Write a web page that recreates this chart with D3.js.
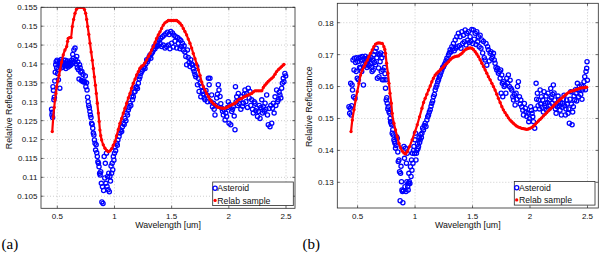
<!DOCTYPE html>
<html>
<head>
<meta charset="utf-8">
<script src="https://cdn.jsdelivr.net/npm/d3@7"></script>
<style>
    body { margin: 0; background: #fff; }
    svg { display: block; font-family: "Liberation Sans", Arial, Helvetica, sans-serif; }
    .tick-label { font-size: 8px; fill: #111; }
    .axis-label { font-size: 8.8px; fill: #111; }
    .legend-text { font-size: 8.7px; fill: #111; }
    .grid-line { stroke: #b8b8b8; stroke-width: 0.7; stroke-dasharray: 1,2; }
    .frame { fill: none; stroke: #2a2a2a; stroke-width: 0.8; }
    .tag { font-family: "Liberation Serif", "Times New Roman", serif; font-size: 15px; fill: #000; }
</style>
</head>
<body>
<svg id="chart" width="600" height="253"></svg>
<script>
const xTicks = [0.5, 1, 1.5, 2, 2.5];
const yTicksA = [0.105, 0.11, 0.115, 0.12, 0.125, 0.13, 0.135, 0.14, 0.145, 0.15, 0.155];
const yTicksB = [0.13, 0.14, 0.15, 0.16, 0.17, 0.18];
const seriesNames = ["Asteroid", "Relab sample"];

// panel (a): [wavelength um, relative reflectance]
const asteroidA = [
[0.450,0.1280],[0.453,0.1265],[0.456,0.1272],[0.459,0.1258],[0.462,0.1340],[0.466,0.1330],[0.470,0.1305],[0.474,0.1312],
[0.478,0.1355],[0.482,0.1378],[0.486,0.1398],[0.490,0.1406],[0.494,0.1390],[0.498,0.1410],[0.502,0.1375],[0.506,0.1385],
[0.510,0.1358],[0.514,0.1402],[0.518,0.1408],[0.522,0.1336],[0.526,0.1395],[0.530,0.1400],[0.534,0.1412],[0.538,0.1390],
[0.542,0.1398],[0.546,0.1405],[0.550,0.1392],[0.555,0.1410],[0.560,0.1400],[0.565,0.1395],[0.570,0.1410],[0.575,0.1388],
[0.580,0.1402],[0.585,0.1396],[0.590,0.1408],[0.595,0.1392],[0.600,0.1400],[0.605,0.1405],[0.610,0.1395],[0.615,0.1403],
[0.620,0.1398],[0.625,0.1410],[0.630,0.1402],[0.635,0.1425],[0.640,0.1415],[0.645,0.1437],[0.650,0.1405],[0.655,0.1442],
[0.660,0.1412],[0.665,0.1400],[0.670,0.1420],[0.675,0.1390],[0.680,0.1405],[0.685,0.1385],[0.690,0.1360],[0.695,0.1398],
[0.700,0.1390],[0.705,0.1378],[0.710,0.1356],[0.715,0.1380],[0.720,0.1354],[0.725,0.1372],[0.730,0.1352],[0.735,0.1354],
[0.740,0.1352],[0.745,0.1368],[0.750,0.1340],[0.755,0.1350],[0.760,0.1331],[0.765,0.1312],[0.770,0.1300],[0.775,0.1290],
[0.780,0.1284],[0.785,0.1274],[0.790,0.1265],[0.795,0.1258],[0.800,0.1243],[0.805,0.1240],[0.810,0.1230],[0.815,0.1217],
[0.820,0.1212],[0.825,0.1199],[0.830,0.1190],[0.835,0.1172],[0.840,0.1186],[0.845,0.1165],[0.850,0.1155],[0.855,0.1141],
[0.860,0.1137],[0.865,0.1128],[0.870,0.1111],[0.875,0.1106],[0.880,0.1115],[0.885,0.1084],[0.890,0.1035],[0.895,0.1075],
[0.900,0.1031],[0.905,0.1065],[0.910,0.1155],[0.915,0.1098],[0.920,0.1137],[0.925,0.1084],[0.930,0.1164],[0.935,0.1076],
[0.940,0.1102],[0.945,0.1067],[0.950,0.1111],[0.955,0.1062],[0.960,0.1102],[0.965,0.1090],[0.970,0.1130],[0.975,0.1111],
[0.980,0.1137],[0.985,0.1120],[0.990,0.1155],[0.995,0.1145],[1.000,0.1164],[1.005,0.1181],[1.010,0.1170],[1.020,0.1190],
[1.025,0.1185],[1.030,0.1199],[1.040,0.1208],[1.048,0.1217],[1.055,0.1225],[1.063,0.1221],[1.070,0.1234],[1.077,0.1243],
[1.085,0.1240],[1.092,0.1256],[1.100,0.1250],[1.107,0.1270],[1.114,0.1265],[1.121,0.1278],[1.128,0.1285],[1.136,0.1296],
[1.143,0.1290],[1.151,0.1313],[1.158,0.1305],[1.165,0.1313],[1.172,0.1325],[1.180,0.1327],[1.187,0.1338],[1.194,0.1340],
[1.201,0.1335],[1.209,0.1349],[1.216,0.1360],[1.223,0.1366],[1.230,0.1375],[1.238,0.1380],[1.245,0.1384],[1.252,0.1389],
[1.260,0.1393],[1.267,0.1388],[1.274,0.1400],[1.282,0.1411],[1.289,0.1406],[1.296,0.1412],[1.304,0.1419],[1.311,0.1424],
[1.318,0.1415],[1.325,0.1428],[1.333,0.1432],[1.340,0.1437],[1.347,0.1446],[1.354,0.1440],[1.362,0.1450],[1.369,0.1446],
[1.376,0.1458],[1.383,0.1448],[1.391,0.1463],[1.398,0.1455],[1.405,0.1468],[1.412,0.1446],[1.420,0.1472],[1.427,0.1450],
[1.434,0.1476],[1.442,0.1442],[1.449,0.1480],[1.456,0.1446],[1.463,0.1484],[1.471,0.1450],[1.478,0.1478],[1.485,0.1440],
[1.492,0.1486],[1.500,0.1455],[1.507,0.1482],[1.514,0.1445],[1.521,0.1476],[1.529,0.1460],[1.536,0.1472],[1.544,0.1442],
[1.551,0.1470],[1.558,0.1455],[1.566,0.1466],[1.573,0.1440],[1.580,0.1462],[1.587,0.1446],[1.594,0.1455],[1.602,0.1437],
[1.609,0.1448],[1.616,0.1432],[1.624,0.1420],[1.631,0.1398],[1.638,0.1437],[1.645,0.1417],[1.653,0.1404],[1.660,0.1393],
[1.667,0.1411],[1.675,0.1400],[1.682,0.1397],[1.689,0.1387],[1.697,0.1380],[1.704,0.1372],[1.711,0.1366],[1.719,0.1393],
[1.726,0.1345],[1.733,0.1362],[1.740,0.1327],[1.748,0.1349],[1.755,0.1313],[1.763,0.1340],[1.770,0.1327],[1.777,0.1320],
[1.785,0.1310],[1.792,0.1305],[1.800,0.1330],[1.807,0.1318],[1.814,0.1300],[1.821,0.1362],[1.828,0.1345],[1.835,0.1362],
[1.843,0.1300],[1.850,0.1318],[1.857,0.1287],[1.865,0.1296],[1.872,0.1280],[1.879,0.1265],[1.886,0.1290],[1.894,0.1310],
[1.901,0.1320],[1.908,0.1345],[1.914,0.1331],[1.923,0.1314],[1.930,0.1295],[1.938,0.1283],[1.945,0.1275],[1.952,0.1265],
[1.960,0.1278],[1.967,0.1252],[1.974,0.1270],[1.981,0.1261],[1.988,0.1285],[1.995,0.1300],[2.002,0.1243],[2.010,0.1292],
[2.017,0.1239],[2.025,0.1274],[2.032,0.1280],[2.039,0.1287],[2.047,0.1262],[2.054,0.1226],[2.058,0.1340],[2.064,0.1300],
[2.069,0.1313],[2.076,0.1290],[2.083,0.1322],[2.090,0.1295],[2.098,0.1305],[2.105,0.1280],[2.113,0.1314],[2.120,0.1288],
[2.127,0.1296],[2.134,0.1320],[2.141,0.1331],[2.149,0.1300],[2.156,0.1322],[2.163,0.1285],[2.170,0.1336],[2.178,0.1310],
[2.185,0.1327],[2.192,0.1290],[2.200,0.1305],[2.207,0.1280],[2.214,0.1270],[2.222,0.1300],[2.229,0.1296],[2.236,0.1276],
[2.244,0.1283],[2.251,0.1261],[2.258,0.1274],[2.266,0.1290],[2.273,0.1256],[2.280,0.1285],[2.288,0.1305],[2.295,0.1270],
[2.302,0.1287],[2.310,0.1275],[2.317,0.1296],[2.324,0.1280],[2.331,0.1318],[2.338,0.1265],[2.345,0.1239],[2.352,0.1282],
[2.360,0.1234],[2.367,0.1290],[2.375,0.1243],[2.382,0.1283],[2.389,0.1296],[2.396,0.1270],[2.404,0.1313],[2.411,0.1290],
[2.418,0.1331],[2.426,0.1300],[2.433,0.1305],[2.440,0.1325],[2.447,0.1318],[2.455,0.1310],[2.462,0.1336],[2.468,0.1349],
[2.476,0.1362],[2.482,0.1353],[2.490,0.1375],[2.497,0.1368]
];

const relabA = [
[0.456,0.1221],[0.465,0.1260],[0.473,0.1285],[0.480,0.1305],[0.488,0.1322],[0.495,0.1340],[0.505,0.1355],[0.515,0.1370],
[0.524,0.1384],[0.538,0.1405],[0.552,0.1424],[0.567,0.1437],[0.582,0.1446],[0.590,0.1460],[0.596,0.1468],[0.608,0.1470],
[0.620,0.1470],[0.631,0.1499],[0.643,0.1518],[0.655,0.1534],[0.668,0.1545],[0.684,0.1550],[0.700,0.1550],[0.715,0.1550],
[0.727,0.1550],[0.738,0.1544],[0.748,0.1534],[0.757,0.1518],[0.766,0.1499],[0.776,0.1478],[0.786,0.1455],[0.796,0.1432],
[0.806,0.1410],[0.815,0.1388],[0.824,0.1366],[0.833,0.1344],[0.841,0.1322],[0.850,0.1296],[0.859,0.1270],[0.866,0.1248],
[0.873,0.1225],[0.880,0.1210],[0.888,0.1199],[0.902,0.1186],[0.917,0.1177],[0.932,0.1171],[0.946,0.1168],[0.961,0.1170],
[0.976,0.1176],[0.990,0.1185],[1.005,0.1195],[1.019,0.1210],[1.033,0.1226],[1.048,0.1243],[1.063,0.1256],[1.077,0.1270],
[1.092,0.1283],[1.107,0.1296],[1.121,0.1310],[1.136,0.1322],[1.150,0.1336],[1.165,0.1349],[1.180,0.1360],[1.194,0.1371],
[1.209,0.1380],[1.223,0.1389],[1.238,0.1394],[1.252,0.1397],[1.267,0.1403],[1.282,0.1411],[1.296,0.1420],[1.311,0.1428],
[1.325,0.1437],[1.340,0.1446],[1.355,0.1457],[1.369,0.1468],[1.383,0.1477],[1.398,0.1485],[1.412,0.1494],[1.427,0.1503],
[1.442,0.1509],[1.457,0.1512],[1.471,0.1515],[1.486,0.1515],[1.500,0.1515],[1.515,0.1515],[1.530,0.1515],[1.544,0.1515],
[1.558,0.1512],[1.573,0.1508],[1.588,0.1502],[1.602,0.1494],[1.616,0.1486],[1.631,0.1477],[1.645,0.1466],[1.660,0.1455],
[1.675,0.1442],[1.689,0.1428],[1.704,0.1414],[1.719,0.1400],[1.733,0.1385],[1.748,0.1370],[1.763,0.1352],[1.777,0.1340],
[1.792,0.1331],[1.806,0.1322],[1.821,0.1314],[1.835,0.1306],[1.850,0.1300],[1.865,0.1295],[1.879,0.1292],[1.894,0.1288],
[1.908,0.1285],[1.923,0.1284],[1.938,0.1283],[1.952,0.1283],[1.967,0.1283],[1.981,0.1285],[1.995,0.1287],[2.010,0.1290],
[2.025,0.1292],[2.039,0.1294],[2.054,0.1296],[2.069,0.1300],[2.083,0.1305],[2.098,0.1307],[2.113,0.1309],[2.127,0.1312],
[2.141,0.1314],[2.156,0.1316],[2.170,0.1318],[2.185,0.1320],[2.200,0.1322],[2.214,0.1326],[2.229,0.1329],[2.244,0.1329],
[2.258,0.1329],[2.273,0.1329],[2.288,0.1329],[2.302,0.1338],[2.316,0.1344],[2.331,0.1349],[2.345,0.1354],[2.360,0.1358],
[2.375,0.1362],[2.389,0.1366],[2.404,0.1373],[2.418,0.1380],[2.433,0.1385],[2.447,0.1389],[2.462,0.1393],[2.476,0.1397],
[2.482,0.1399]
];

// panel (b)
const asteroidB = [
[0.425,0.1537],[0.431,0.1516],[0.436,0.1532],[0.440,0.1610],[0.444,0.1511],[0.448,0.1540],[0.452,0.1605],[0.456,0.1589],
[0.460,0.1683],[0.465,0.1568],[0.469,0.1652],[0.473,0.1689],[0.478,0.1563],[0.483,0.1675],[0.488,0.1647],[0.492,0.1690],
[0.497,0.1626],[0.502,0.1678],[0.507,0.1621],[0.512,0.1688],[0.517,0.1660],[0.522,0.1692],[0.526,0.1658],[0.531,0.1684],
[0.536,0.1647],[0.541,0.1694],[0.546,0.1670],[0.551,0.1605],[0.556,0.1686],[0.561,0.1665],[0.566,0.1695],[0.571,0.1676],
[0.576,0.1688],[0.581,0.1660],[0.586,0.1680],[0.591,0.1670],[0.596,0.1692],[0.601,0.1665],[0.606,0.1685],[0.611,0.1672],
[0.616,0.1690],[0.621,0.1660],[0.626,0.1647],[0.631,0.1682],[0.636,0.1652],[0.642,0.1700],[0.647,0.1675],[0.652,0.1710],
[0.657,0.1668],[0.662,0.1720],[0.667,0.1690],[0.672,0.1626],[0.677,0.1702],[0.682,0.1658],[0.686,0.1631],[0.691,0.1700],
[0.696,0.1678],[0.701,0.1705],[0.706,0.1647],[0.711,0.1690],[0.715,0.1621],[0.720,0.1652],[0.724,0.1700],[0.729,0.1621],
[0.734,0.1660],[0.738,0.1640],[0.743,0.1595],[0.747,0.1621],[0.749,0.1558],[0.754,0.1565],[0.758,0.1548],[0.763,0.1530],
[0.767,0.1537],[0.773,0.1521],[0.779,0.1516],[0.784,0.1500],[0.787,0.1490],[0.792,0.1485],[0.796,0.1480],[0.801,0.1454],
[0.806,0.1465],[0.810,0.1448],[0.816,0.1433],[0.821,0.1428],[0.825,0.1422],[0.830,0.1407],[0.835,0.1415],[0.839,0.1443],
[0.845,0.1438],[0.850,0.1395],[0.854,0.1365],[0.860,0.1370],[0.865,0.1333],[0.870,0.1242],[0.874,0.1328],[0.878,0.1350],
[0.882,0.1302],[0.886,0.1276],[0.890,0.1271],[0.894,0.1236],[0.898,0.1274],[0.903,0.1412],[0.908,0.1375],[0.912,0.1286],
[0.917,0.1407],[0.921,0.1271],[0.925,0.1360],[0.929,0.1302],[0.932,0.1391],[0.936,0.1286],[0.940,0.1276],[0.943,0.1297],
[0.946,0.1328],[0.950,0.1302],[0.955,0.1296],[0.960,0.1349],[0.965,0.1318],[0.969,0.1370],[0.973,0.1338],[0.977,0.1391],
[0.982,0.1360],[0.986,0.1400],[0.990,0.1412],[0.995,0.1390],[0.999,0.1433],[1.004,0.1454],[1.008,0.1370],[1.012,0.1391],
[1.016,0.1400],[1.021,0.1420],[1.025,0.1405],[1.030,0.1412],[1.035,0.1440],[1.040,0.1425],[1.045,0.1433],[1.050,0.1450],
[1.055,0.1440],[1.060,0.1454],[1.066,0.1470],[1.073,0.1464],[1.080,0.1478],[1.088,0.1485],[1.095,0.1475],[1.103,0.1495],
[1.110,0.1505],[1.117,0.1511],[1.124,0.1520],[1.132,0.1527],[1.139,0.1538],[1.146,0.1548],[1.153,0.1555],[1.160,0.1568],
[1.168,0.1575],[1.175,0.1589],[1.182,0.1598],[1.190,0.1605],[1.197,0.1615],[1.204,0.1621],[1.211,0.1630],[1.219,0.1636],
[1.226,0.1645],[1.233,0.1652],[1.240,0.1660],[1.247,0.1662],[1.255,0.1668],[1.262,0.1673],[1.269,0.1680],[1.277,0.1689],
[1.284,0.1684],[1.291,0.1699],[1.298,0.1705],[1.305,0.1715],[1.312,0.1708],[1.320,0.1725],[1.327,0.1718],[1.334,0.1735],
[1.341,0.1712],[1.349,0.1746],[1.356,0.1720],[1.363,0.1756],[1.370,0.1725],[1.377,0.1767],[1.385,0.1728],[1.392,0.1756],
[1.399,0.1720],[1.407,0.1772],[1.414,0.1735],[1.421,0.1761],[1.428,0.1740],[1.436,0.1777],[1.443,0.1730],[1.450,0.1767],
[1.457,0.1745],[1.464,0.1772],[1.472,0.1738],[1.479,0.1756],[1.486,0.1742],[1.494,0.1779],[1.501,0.1735],[1.508,0.1777],
[1.515,0.1748],[1.523,0.1767],[1.530,0.1732],[1.537,0.1772],[1.544,0.1740],[1.551,0.1756],[1.558,0.1725],[1.566,0.1761],
[1.573,0.1720],[1.581,0.1746],[1.588,0.1705],[1.595,0.1741],[1.602,0.1690],[1.609,0.1683],[1.617,0.1735],[1.624,0.1667],
[1.631,0.1725],[1.638,0.1715],[1.645,0.1680],[1.653,0.1704],[1.660,0.1709],[1.667,0.1688],[1.675,0.1694],[1.682,0.1704],
[1.689,0.1683],[1.696,0.1673],[1.704,0.1660],[1.711,0.1652],[1.718,0.1657],[1.725,0.1642],[1.733,0.1647],[1.740,0.1626],
[1.745,0.1652],[1.749,0.1579],[1.754,0.1636],[1.759,0.1610],[1.763,0.1568],[1.769,0.1615],[1.775,0.1600],[1.783,0.1605],
[1.790,0.1579],[1.798,0.1626],[1.805,0.1610],[1.812,0.1636],[1.821,0.1600],[1.827,0.1620],[1.834,0.1595],[1.841,0.1589],
[1.850,0.1568],[1.856,0.1558],[1.863,0.1575],[1.870,0.1542],[1.879,0.1579],[1.885,0.1560],[1.891,0.1600],[1.899,0.1615],
[1.908,0.1568],[1.914,0.1545],[1.920,0.1558],[1.928,0.1537],[1.937,0.1526],[1.943,0.1511],[1.951,0.1547],[1.960,0.1532],
[1.966,0.1520],[1.972,0.1506],[1.983,0.1516],[1.989,0.1490],[1.995,0.1500],[2.006,0.1537],[2.012,0.1525],[2.018,0.1516],
[2.024,0.1505],[2.030,0.1490],[2.041,0.1469],[2.047,0.1530],[2.053,0.1610],[2.058,0.1560],[2.064,0.1579],[2.070,0.1540],
[2.076,0.1558],[2.082,0.1530],[2.088,0.1589],[2.093,0.1545],[2.099,0.1568],[2.105,0.1535],[2.111,0.1558],[2.116,0.1520],
[2.122,0.1584],[2.128,0.1540],[2.134,0.1547],[2.140,0.1570],[2.145,0.1526],[2.151,0.1550],[2.157,0.1579],[2.163,0.1530],
[2.169,0.1558],[2.175,0.1540],[2.180,0.1594],[2.186,0.1565],[2.192,0.1547],[2.198,0.1575],[2.203,0.1605],[2.209,0.1580],
[2.215,0.1558],[2.221,0.1530],[2.227,0.1516],[2.232,0.1545],[2.238,0.1537],[2.244,0.1570],[2.250,0.1558],[2.256,0.1540],
[2.261,0.1526],[2.267,0.1550],[2.273,0.1511],[2.279,0.1535],[2.284,0.1547],[2.290,0.1560],[2.296,0.1573],[2.302,0.1540],
[2.308,0.1511],[2.313,0.1530],[2.319,0.1558],[2.325,0.1545],[2.331,0.1516],[2.337,0.1530],[2.342,0.1485],[2.348,0.1560],
[2.354,0.1584],[2.360,0.1545],[2.366,0.1480],[2.371,0.1520],[2.377,0.1537],[2.383,0.1570],[2.389,0.1558],[2.395,0.1590],
[2.400,0.1579],[2.406,0.1555],[2.412,0.1610],[2.418,0.1590],[2.423,0.1568],[2.429,0.1600],[2.435,0.1589],[2.441,0.1575],
[2.447,0.1605],[2.452,0.1560],[2.458,0.1589],[2.464,0.1600],[2.470,0.1615],[2.476,0.1631],[2.482,0.1590],[2.487,0.1647],
[2.493,0.1657],[2.496,0.1678],[2.499,0.1620]
];

const relabB = [
[0.443,0.1459],[0.454,0.1495],[0.469,0.1527],[0.483,0.1558],[0.497,0.1584],[0.512,0.1610],[0.526,0.1636],[0.541,0.1652],
[0.556,0.1662],[0.570,0.1673],[0.585,0.1683],[0.599,0.1694],[0.613,0.1704],[0.628,0.1715],[0.642,0.1725],[0.657,0.1733],
[0.672,0.1736],[0.686,0.1737],[0.700,0.1736],[0.715,0.1735],[0.729,0.1725],[0.737,0.1716],[0.743,0.1704],[0.752,0.1673],
[0.764,0.1642],[0.773,0.1610],[0.782,0.1579],[0.793,0.1548],[0.801,0.1516],[0.816,0.1485],[0.830,0.1464],[0.845,0.1443],
[0.860,0.1422],[0.874,0.1408],[0.888,0.1398],[0.903,0.1392],[0.917,0.1389],[0.932,0.1396],[0.952,0.1412],[0.975,0.1433],
[0.999,0.1458],[1.019,0.1480],[1.039,0.1505],[1.060,0.1532],[1.074,0.1550],[1.088,0.1563],[1.103,0.1576],[1.117,0.1589],
[1.132,0.1602],[1.146,0.1615],[1.160,0.1626],[1.175,0.1636],[1.190,0.1642],[1.204,0.1647],[1.219,0.1652],[1.233,0.1657],
[1.248,0.1662],[1.262,0.1668],[1.277,0.1673],[1.291,0.1678],[1.306,0.1684],[1.320,0.1689],[1.335,0.1692],[1.349,0.1694],
[1.363,0.1695],[1.377,0.1696],[1.392,0.1700],[1.407,0.1704],[1.421,0.1710],[1.436,0.1715],[1.450,0.1718],[1.464,0.1720],
[1.479,0.1721],[1.494,0.1720],[1.508,0.1716],[1.523,0.1709],[1.537,0.1702],[1.551,0.1694],[1.566,0.1684],[1.581,0.1673],
[1.595,0.1663],[1.610,0.1652],[1.624,0.1642],[1.638,0.1631],[1.653,0.1621],[1.668,0.1610],[1.682,0.1600],[1.696,0.1589],
[1.711,0.1576],[1.725,0.1563],[1.740,0.1550],[1.755,0.1537],[1.768,0.1527],[1.783,0.1518],[1.798,0.1510],[1.812,0.1502],
[1.827,0.1495],[1.841,0.1490],[1.855,0.1485],[1.870,0.1480],[1.885,0.1476],[1.899,0.1473],[1.914,0.1471],[1.928,0.1469],
[1.942,0.1468],[1.957,0.1467],[1.972,0.1466],[1.986,0.1467],[2.000,0.1469],[2.015,0.1472],[2.029,0.1476],[2.044,0.1481],
[2.059,0.1487],[2.073,0.1492],[2.087,0.1497],[2.102,0.1502],[2.116,0.1508],[2.131,0.1513],[2.145,0.1518],[2.160,0.1524],
[2.174,0.1529],[2.189,0.1534],[2.203,0.1539],[2.218,0.1545],[2.232,0.1550],[2.247,0.1555],[2.261,0.1560],[2.276,0.1564],
[2.290,0.1568],[2.305,0.1573],[2.319,0.1577],[2.334,0.1581],[2.348,0.1584],[2.363,0.1586],[2.377,0.1587],[2.392,0.1589],
[2.406,0.1591],[2.421,0.1593],[2.435,0.1595],[2.450,0.1596],[2.464,0.1596],[2.479,0.1597],[2.493,0.1598]
];

const BLUE = "#0000ff";
const RED = "#ff0000";

const panels = [
    { key: "a", asteroid: asteroidA, relab: relabA, yTicks: yTicksA,
      left: 41, right: 295, top: 7.3, bottom: 208.3,
      xDomain: [0.3575, 2.5787], yDomain: [0.1018, 0.155],
      legend: { x: 212.7, y: 182, w: 80.6, h: 23.6 },
      yLabelX: 11.7, tag: "(a)", tagX: 1.5 },
    { key: "b", asteroid: asteroidB, relab: relabB, yTicks: yTicksB,
      left: 337.3, right: 598.3, top: 3.3, bottom: 208,
      xDomain: [0.3236, 2.594], yDomain: [0.12195, 0.18608],
      legend: { x: 514.3, y: 181.5, w: 80.7, h: 23.6 },
      yLabelX: 312.2, tag: "(b)", tagX: 302.5 }
];

const svg = d3.select("#chart");

panels.forEach(p => {
    const x = d3.scaleLinear().domain(p.xDomain).range([p.left, p.right]);
    const y = d3.scaleLinear().domain(p.yDomain).range([p.bottom, p.top]);
    const g = svg.append("g");

    g.append("rect")
        .attr("x", p.left).attr("y", p.top)
        .attr("width", p.right - p.left).attr("height", p.bottom - p.top)
        .attr("fill", "#fff");

    // dotted grid
    g.selectAll(".gx").data(xTicks).join("line")
        .attr("class", "grid-line")
        .attr("x1", d => x(d)).attr("x2", d => x(d))
        .attr("y1", p.top).attr("y2", p.bottom);
    g.selectAll(".gy").data(p.yTicks).join("line")
        .attr("class", "grid-line")
        .attr("x1", p.left).attr("x2", p.right)
        .attr("y1", d => y(d)).attr("y2", d => y(d));

    // inward ticks on all four sides
    const tl = 2.6;
    xTicks.forEach(t => {
        g.append("line").attr("stroke", "#2a2a2a").attr("stroke-width", 0.7)
            .attr("x1", x(t)).attr("x2", x(t)).attr("y1", p.bottom).attr("y2", p.bottom - tl);
        g.append("line").attr("stroke", "#2a2a2a").attr("stroke-width", 0.7)
            .attr("x1", x(t)).attr("x2", x(t)).attr("y1", p.top).attr("y2", p.top + tl);
    });
    p.yTicks.forEach(t => {
        g.append("line").attr("stroke", "#2a2a2a").attr("stroke-width", 0.7)
            .attr("x1", p.left).attr("x2", p.left + tl).attr("y1", y(t)).attr("y2", y(t));
        g.append("line").attr("stroke", "#2a2a2a").attr("stroke-width", 0.7)
            .attr("x1", p.right).attr("x2", p.right - tl).attr("y1", y(t)).attr("y2", y(t));
    });

    // tick labels
    g.selectAll(".xl").data(xTicks).join("text")
        .attr("class", "tick-label")
        .attr("x", d => x(d)).attr("y", p.bottom + 11)
        .attr("text-anchor", "middle")
        .text(d => String(d));
    g.selectAll(".yl").data(p.yTicks).join("text")
        .attr("class", "tick-label")
        .attr("x", p.left - 3.6).attr("y", d => y(d) + 2.9)
        .attr("text-anchor", "end")
        .text(d => String(d));

    // data, clipped to the axes box
    const clipId = `clip-${p.key}`;
    svg.append("clipPath").attr("id", clipId)
        .append("rect")
        .attr("x", p.left).attr("y", p.top)
        .attr("width", p.right - p.left).attr("height", p.bottom - p.top);
    const plot = g.append("g").attr("clip-path", `url(#${clipId})`);

    plot.selectAll(".ast").data(p.asteroid).join("circle")
        .attr("cx", d => x(d[0])).attr("cy", d => y(d[1]))
        .attr("r", 2.1)
        .attr("fill", "none")
        .attr("stroke", BLUE)
        .attr("stroke-width", 1.3);

    const line = d3.line()
        .x(d => x(d[0])).y(d => y(d[1]))
        .curve(d3.curveMonotoneX);
    plot.append("path")
        .datum(p.relab)
        .attr("d", line)
        .attr("fill", "none")
        .attr("stroke", RED)
        .attr("stroke-width", 2.2);
    plot.selectAll(".rel").data(p.relab).join("circle")
        .attr("cx", d => x(d[0])).attr("cy", d => y(d[1]))
        .attr("r", 1.65)
        .attr("fill", RED);

    // frame
    g.append("rect").attr("class", "frame")
        .attr("x", p.left).attr("y", p.top)
        .attr("width", p.right - p.left).attr("height", p.bottom - p.top);

    // axis labels
    g.append("text").attr("class", "axis-label")
        .attr("x", (p.left + p.right) / 2).attr("y", p.bottom + 20)
        .attr("text-anchor", "middle")
        .text("Wavelength [um]");
    g.append("text").attr("class", "axis-label")
        .attr("transform", `translate(${p.yLabelX},${(p.top + p.bottom) / 2 + 1}) rotate(-90)`)
        .attr("text-anchor", "middle")
        .text("Relative Reflectance");

    // legend
    const L = p.legend;
    const lg = g.append("g");
    lg.append("rect")
        .attr("x", L.x).attr("y", L.y).attr("width", L.w).attr("height", L.h)
        .attr("fill", "#fff").attr("stroke", "#2a2a2a").attr("stroke-width", 0.8);
    seriesNames.forEach((name, i) => {
        const cy = L.y + 6.2 + i * 12.2;
        if (i === 0) {
            lg.append("circle").attr("cx", L.x + 2.4).attr("cy", cy).attr("r", 2.1)
                .attr("fill", "none").attr("stroke", BLUE).attr("stroke-width", 1.3);
        } else {
            lg.append("circle").attr("cx", L.x + 2.4).attr("cy", cy).attr("r", 1.65)
                .attr("fill", RED);
        }
        lg.append("text").attr("class", "legend-text")
            .attr("x", L.x + 4.6).attr("y", cy + 3.1)
            .text(name);
    });

    svg.append("text").attr("class", "tag")
        .attr("x", p.tagX).attr("y", 248.5)
        .text(p.tag);
});
</script>
</body>
</html>
